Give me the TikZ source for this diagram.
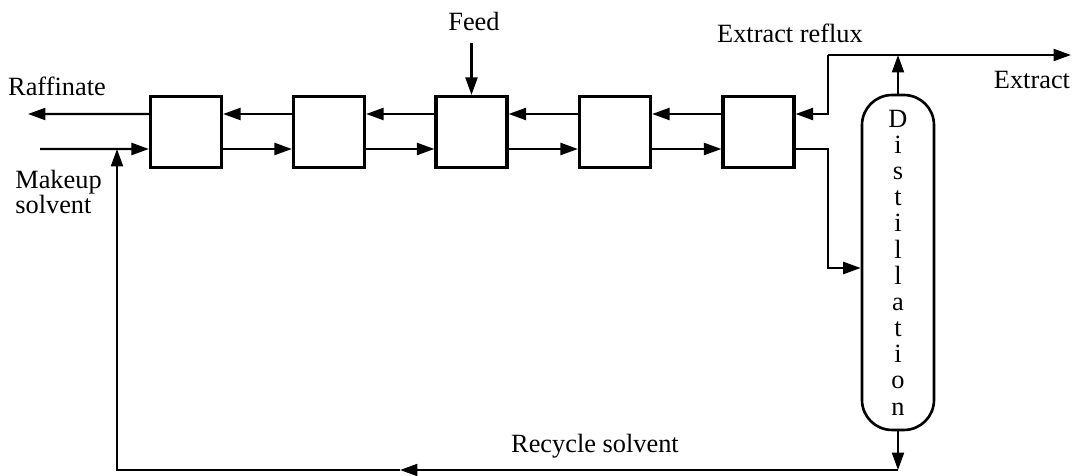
\documentclass[tikz,border=0pt]{standalone}
\usepackage{fontspec}
\setmainfont{Liberation Serif}
\usetikzlibrary{arrows.meta,positioning,calc}
\tikzset{
  stage/.style={draw=black, line width=1.8pt, minimum width=1.42cm, minimum height=1.42cm, inner sep=0pt},
  column/.style={draw=black, line width=1.5pt, rounded corners=6mm, minimum width=1.44cm, minimum height=6.7cm, align=center, inner sep=0pt, font=\fontsize{15}{14.9}\selectfont},
  lbl/.style={font=\fontsize{15}{14.2}\selectfont, inner sep=0pt},
  arrow/.style={-{Triangle[length=3.5mm,width=2.4mm]}, line width=1.3pt}
}

\begin{document}
\begin{tikzpicture}[x=0.02cm, y=-0.02cm]
  \useasboundingbox (0,0) rectangle (1073,476);
  % extraction stages and column
  \node[stage] (s1) at (186,132) {};
  \node[stage] (s2) at (329,132) {};
  \node[stage] (s3) at (471.5,132) {};
  \node[stage] (s4) at (615,132) {};
  \node[stage] (s5) at (758.5,132) {};
  \node[column] (dist) at (898,262.5) {D\\i\\s\\t\\i\\l\\l\\a\\t\\i\\o\\n};
  % labels
  \node[lbl] (feedlbl) at (474,21) {Feed};
  \node[lbl] (raflbl) at (57,86) {Raffinate};
  \node[lbl, align=left, anchor=north west] (mklbl) at (15,170) {Makeup\\solvent};
  \node[lbl] (reflbl) at (790,33) {Extract reflux};
  \node[lbl] (extlbl) at (1032,80) {Extract};
  \node[lbl] (reclbl) at (595,446) {Recycle solvent};
  % free ends and corners
  \coordinate (feedin) at (471.5,43);
  \coordinate (rafout) at (28,114);
  \coordinate (mkin) at (40,149);
  \coordinate (split) at (828,55);
  \coordinate (extout) at (1071,55);
  \coordinate (sidedraw) at (828,268);
  \coordinate (botr) at (898,470);
  \coordinate (recmid) at (400,470);
  \coordinate (botl) at (117,470);
  \coordinate (rejoin) at (117,149);
  % flows between stages
  \foreach \a/\b in {s1/s2,s2/s3,s3/s4,s4/s5} {
    \draw[arrow] ([yshift=0.36cm]\b.west) -- ([yshift=0.36cm]\a.east);
    \draw[arrow] ([yshift=-0.34cm]\a.east) -- ([yshift=-0.34cm]\b.west);
  }
  \draw[arrow] (feedin) -- (s3.north);
  \draw[arrow] ([yshift=0.36cm]s1.west) -- (rafout);
  \draw[arrow] (mkin) -- ([yshift=-0.34cm]s1.west);
  % column top
  \draw[arrow] (split) -- (extout);
  \draw[arrow] (split) |- ([yshift=0.36cm]s5.east);
  \draw[arrow] (dist.north) -- (dist.north |- split);
  \draw[arrow] ([yshift=-0.34cm]s5.east) -| (sidedraw) -- (sidedraw -| dist.west);
  % recycle
  \draw[arrow] (dist.south) -- (botr);
  \draw[arrow] (botr) -- (recmid);
  \draw[arrow] (recmid) -- (botl) -- (rejoin);
\end{tikzpicture}
\end{document}
